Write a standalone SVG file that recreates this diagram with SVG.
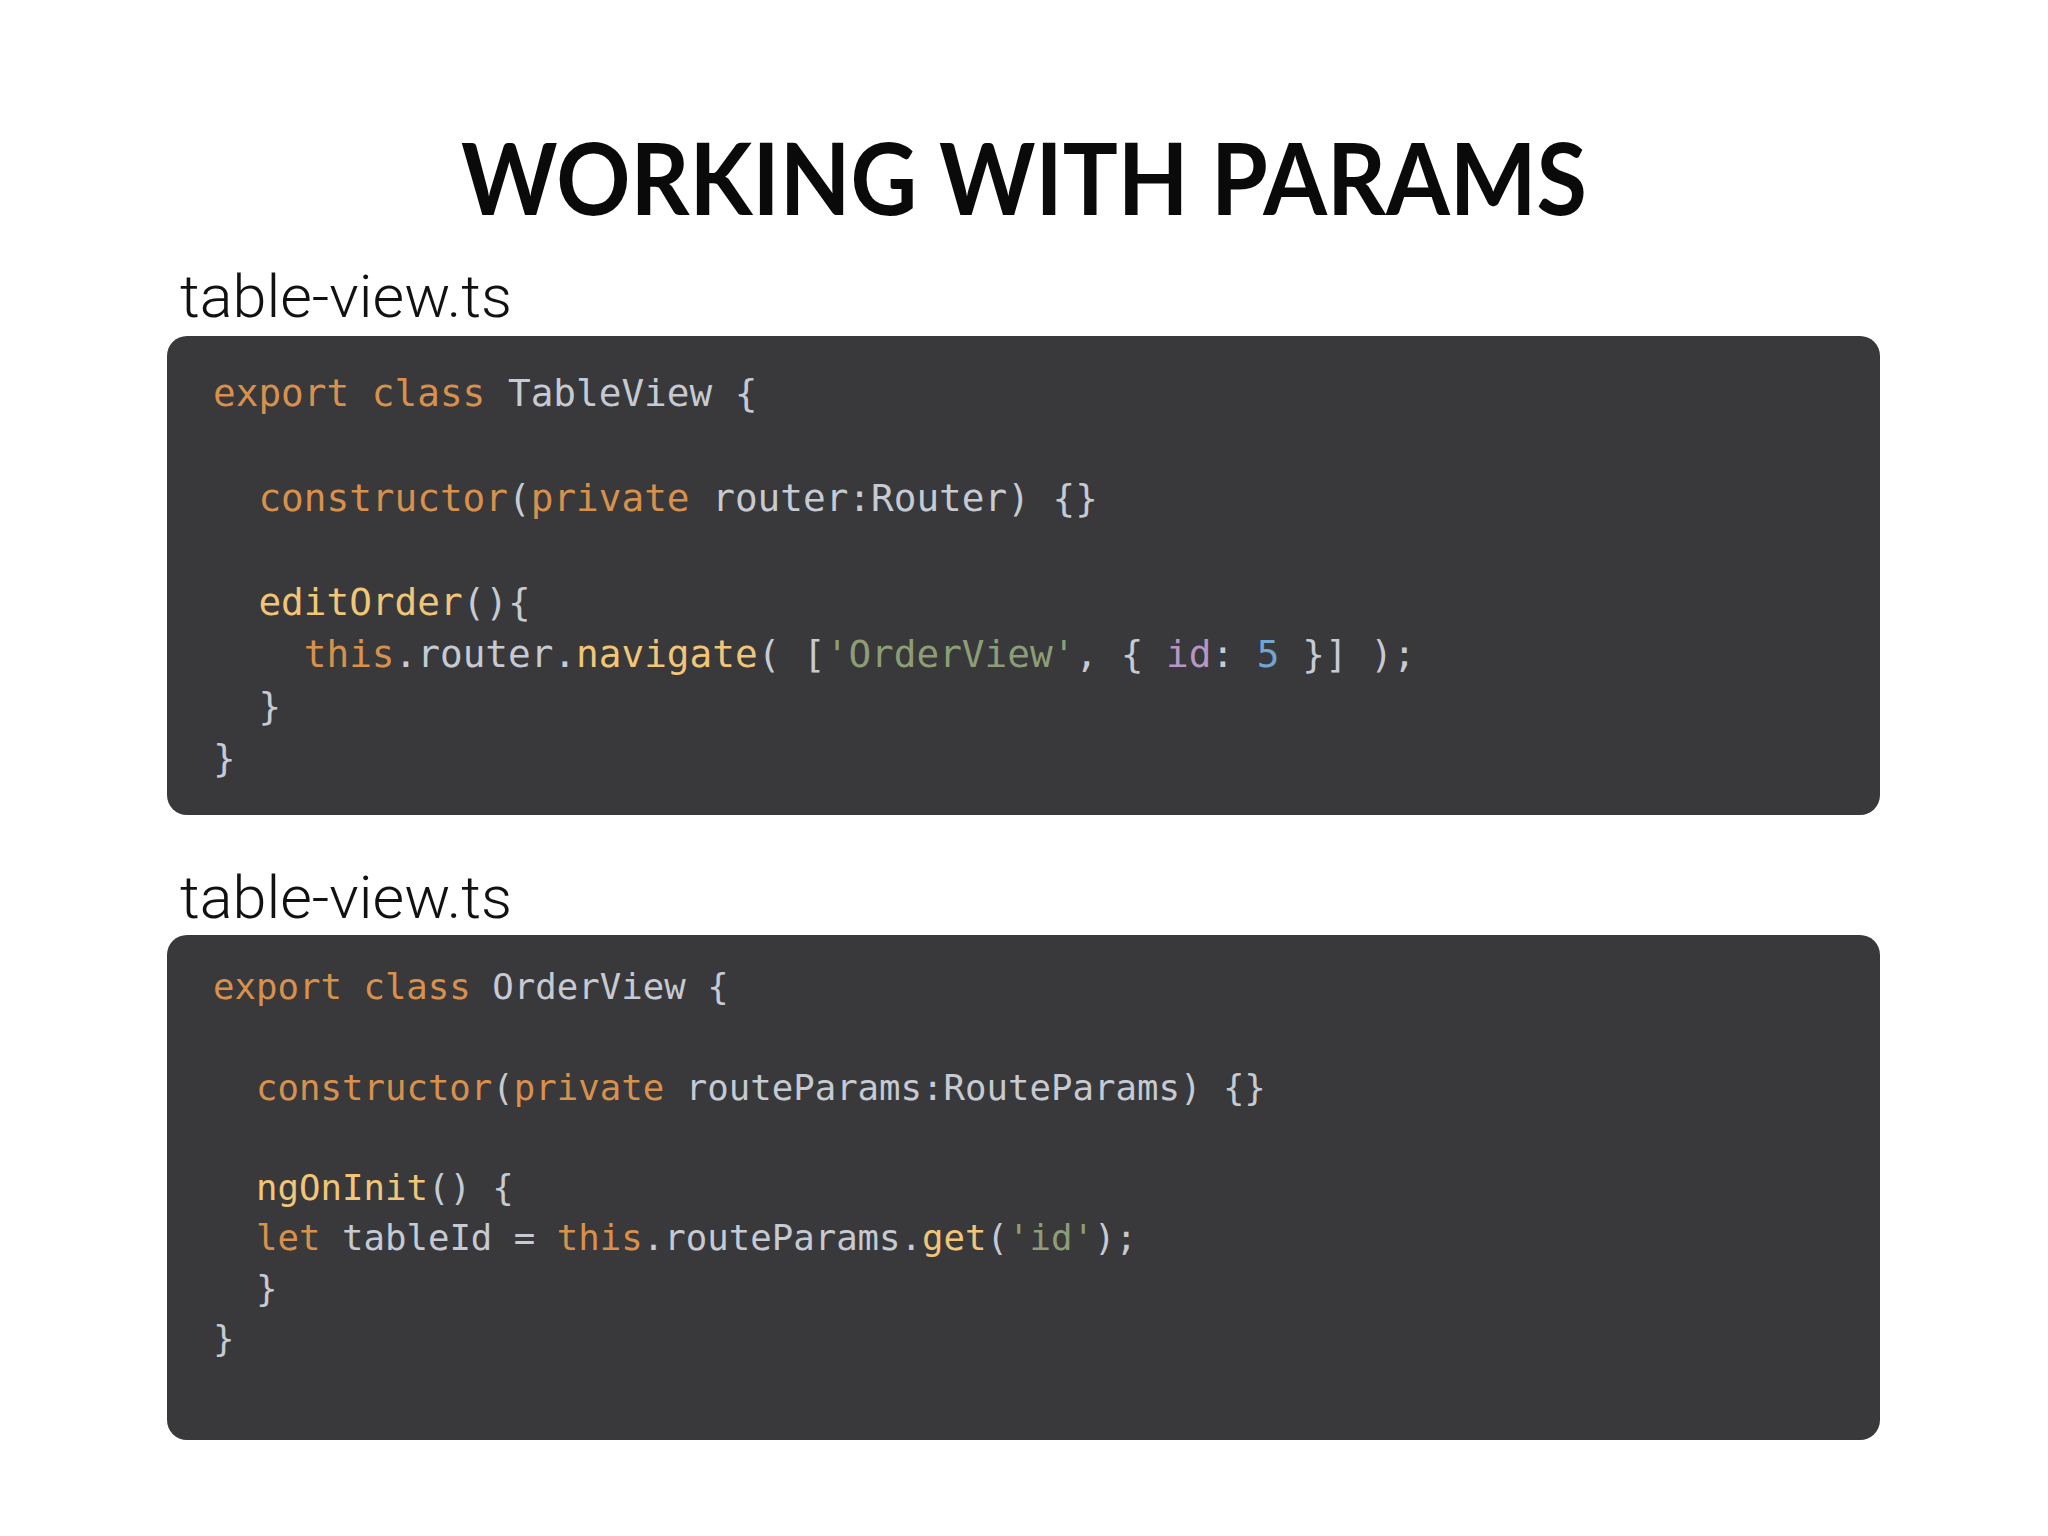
<svg xmlns="http://www.w3.org/2000/svg" width="2048" height="1536" viewBox="0 0 2048 1536">
<style>
.title{font-family:Lato,"Open Sans","Liberation Sans",sans-serif;font-weight:700;font-size:100px;fill:#0a0a0a}
.label{font-family:Roboto,"Liberation Sans",sans-serif;font-weight:300;font-size:60px;fill:#111}
.box{fill:#39393b}
.code1{font-family:"DejaVu Sans Mono","Liberation Mono",monospace;font-size:37.7px;fill:#c5cad3}
.code2{font-family:"DejaVu Sans Mono","Liberation Mono",monospace;font-size:35.7px;fill:#c5cad3}
.k{fill:#d8914c}
.f{fill:#f2c678}
.s{fill:#8d9e76}
.p{fill:#b596c4}
.n{fill:#6ea6d4}
</style>
<rect width="2048" height="1536" fill="#ffffff"/>
<g id="title"><text class="title" x="1024" y="215" text-anchor="middle" textLength="1126" lengthAdjust="spacingAndGlyphs">WORKING WITH PARAMS</text></g>
<g id="label1"><text class="label" x="180" y="317" textLength="332" lengthAdjust="spacingAndGlyphs">table-view.ts</text></g>
<g id="code-box-1">
<rect class="box" x="167" y="336" width="1713" height="479" rx="20"/>
<text class="code1" xml:space="preserve"><tspan x="213" y="406"><tspan class="k">export class</tspan> TableView {</tspan><tspan x="258.4" y="510.5"><tspan class="k">constructor</tspan>(<tspan class="k">private</tspan> router:Router) {}</tspan><tspan x="258.4" y="615"><tspan class="f">editOrder</tspan>(){</tspan><tspan x="303.8" y="667"><tspan class="k">this</tspan>.router.<tspan class="f">navigate</tspan>( [<tspan class="s">'OrderView'</tspan>, { <tspan class="p">id</tspan>: <tspan class="n">5</tspan> }] );</tspan><tspan x="258.4" y="719">}</tspan><tspan x="213" y="771">}</tspan></text>
</g>
<g id="label2"><text class="label" x="180" y="918" textLength="332" lengthAdjust="spacingAndGlyphs">table-view.ts</text></g>
<g id="code-box-2">
<rect class="box" x="167" y="935" width="1713" height="505" rx="20"/>
<text class="code2" xml:space="preserve"><tspan x="213" y="999"><tspan class="k">export class</tspan> OrderView {</tspan><tspan x="256" y="1099.6"><tspan class="k">constructor</tspan>(<tspan class="k">private</tspan> routeParams:RouteParams) {}</tspan><tspan x="256" y="1200"><tspan class="f">ngOnInit</tspan>() {</tspan><tspan x="256" y="1250"><tspan class="k">let</tspan> tableId = <tspan class="k">this</tspan>.routeParams.<tspan class="f">get</tspan>(<tspan class="s">'id'</tspan>);</tspan><tspan x="256" y="1300.5">}</tspan><tspan x="213" y="1351">}</tspan></text>
</g>
</svg>
